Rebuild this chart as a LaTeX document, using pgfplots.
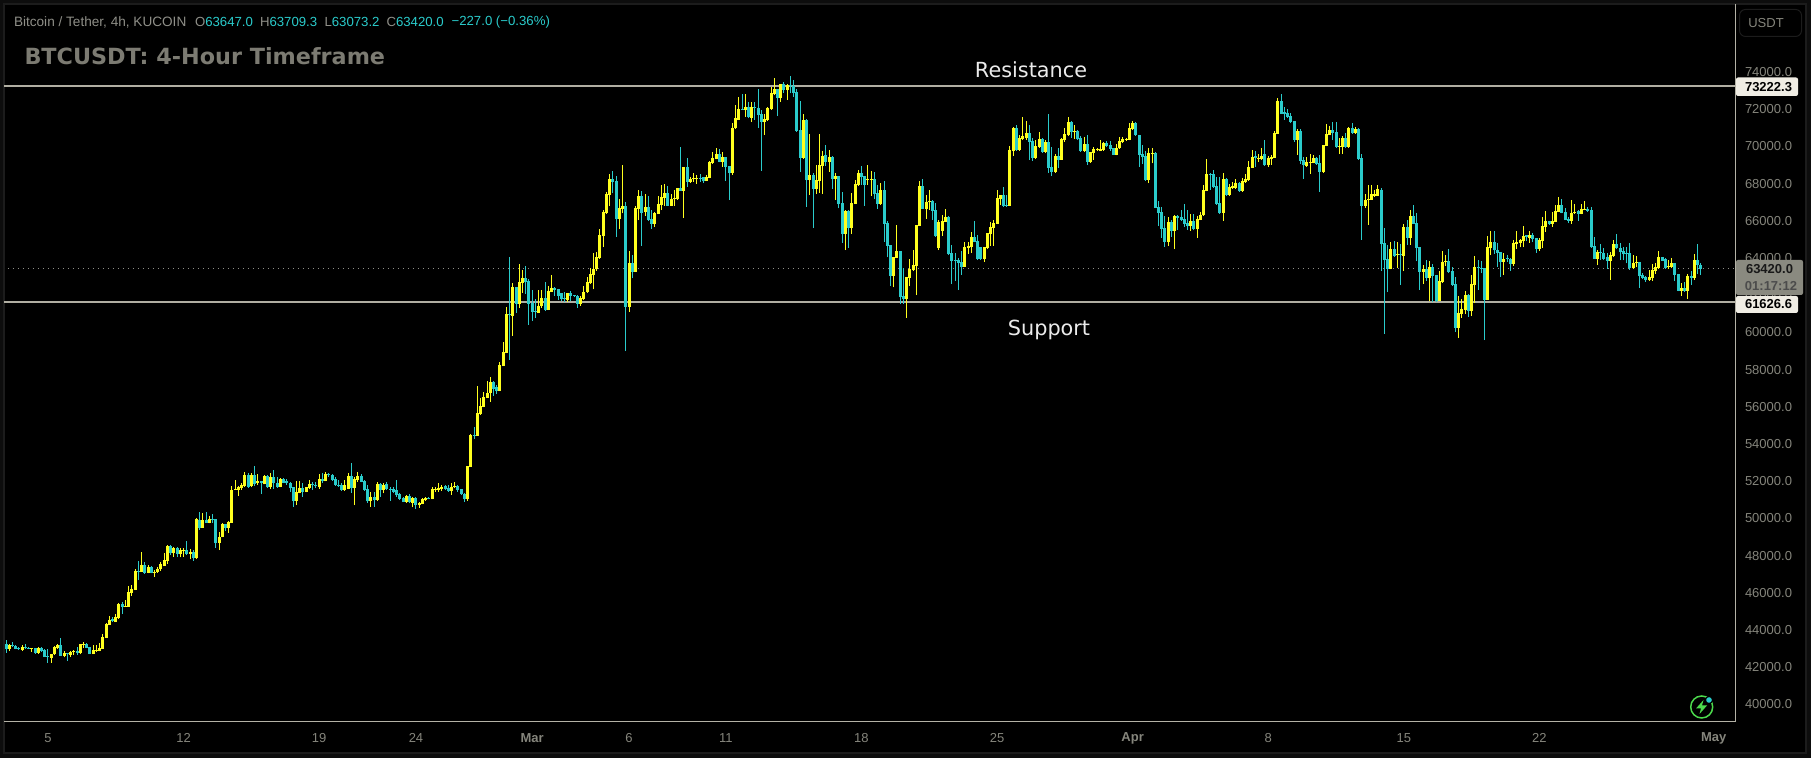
\documentclass[border=0pt]{standalone}
\usepackage{pgfplots}
\usepackage{pgfplotstable}
\usepackage{fontspec}
\pgfplotsset{compat=1.18}
\setmainfont{Liberation Sans}
\newfontfamily\djv{DejaVu Sans}
\definecolor{up}{HTML}{FFFF1E}
\definecolor{dn}{HTML}{2ACBCB}
\definecolor{axl}{HTML}{B4B2A6}
\definecolor{tk}{HTML}{85857C}
\definecolor{hd}{HTML}{8F8F88}
\definecolor{lv}{HTML}{B0AEA2}
\definecolor{ttl}{HTML}{7C7B72}
\definecolor{tagb}{HTML}{F0EDE4}
\definecolor{tagg}{HTML}{8A8A80}
\definecolor{frm}{HTML}{1C1C1C}
\definecolor{grn}{HTML}{4CD94C}
\pgfplotstableread{
o h l c
43250 43470 42780 42960
42980 43250 42890 43200
43200 43340 43110 43140
43140 43200 42960 43000
43030 43070 42930 42960
42930 43200 42870 43090
43070 43250 42980 43020
43050 43110 42960 43000
43000 43050 42840 43030
43020 43040 42730 42750
42780 43090 42730 43030
43030 43110 42820 42890
42930 42960 42550 42570
42620 42980 42250 42590
42500 42690 42250 42690
42690 43140 42660 43090
43030 43250 42990 43200
43200 43570 42600 42620
42600 42890 42530 42780
42750 42750 42350 42690
42640 42890 42570 42820
42800 42950 42660 42870
42870 43070 42660 42780
42780 43230 42690 43230
43210 43360 43030 43250
43250 43290 43010 43050
43070 43110 42710 42710
42710 43200 42710 42930
42890 43200 42840 42950
42870 43290 42850 43020
42980 43790 42980 43610
43570 44360 43570 44330
44270 44760 44270 44540
44580 44680 44420 44470
44430 44860 44430 44720
44630 45440 44590 45400
45400 45510 44860 45260
45260 45620 45260 45290
45260 46370 45260 46050
45990 46420 45850 46210
46150 47260 46150 47170
47170 47710 46690 47140
47120 48200 47120 47500
47500 47640 47030 47050
47090 47500 47050 47370
47390 47460 47050 47090
47090 47230 46870 47120
47120 47370 47090 47300
47280 47680 47190 47550
47440 48120 47440 47770
47710 48570 47550 48540
48520 48550 48020 48120
48120 48480 47950 48410
48430 48480 47910 48090
48070 48390 47910 48300
48250 48390 47950 48300
48300 48790 48030 48070
48110 48340 47800 48180
48200 48300 47730 47870
47870 50010 47840 49950
49920 50330 49380 49470
49490 50270 49490 49920
49920 50330 49770 49770
49770 50130 49740 49970
49970 50240 49770 49930
49970 49970 48410 48680
48680 49270 48300 49020
49020 49740 48980 49700
49700 49700 49330 49470
49470 49860 49240 49810
49770 51760 49770 51530
51550 52070 51530 51580
51530 51740 51210 51690
51650 51920 51530 51800
51740 52480 51710 52330
52330 52420 51650 51710
51730 52420 51670 52330
52330 52820 51740 51850
51920 52390 51800 52010
52010 52010 51310 51890
51830 52330 51830 52280
52280 52330 51650 51670
51690 52420 51580 52230
52230 52600 51580 51890
51900 52250 51650 51670
51690 52150 51670 52120
52120 52150 51890 51920
51990 52100 51800 51890
51900 51940 51440 51620
51690 51710 50630 50940
50940 52010 50720 51440
51390 52010 51350 51640
51640 51890 51170 51420
51440 51710 51400 51690
51650 52070 51560 51850
51830 51980 51530 51780
51800 51980 51650 51760
51670 52390 51600 52120
52120 52420 51920 52010
52010 52480 51990 52390
52390 52460 52250 52320
52320 52390 52030 52070
52140 52210 51760 51800
51820 52070 51710 51740
51780 51890 51490 51530
51530 52070 51490 51820
51600 52420 51560 52280
52280 53000 51390 51640
51620 52210 50720 52100
52070 52480 51980 52280
52280 52390 51940 51980
52030 52070 51490 51530
51560 51800 50850 50920
50940 51440 50630 51150
51150 51440 50630 50970
50990 51940 50960 51850
51850 51920 51170 51530
51530 51920 51350 51800
51850 51980 51530 51580
51600 51710 50950 51560
51560 51710 51350 51440
51530 52070 51170 51240
51300 51350 50990 51040
51100 51130 50870 50880
50870 51260 50850 51220
51220 51300 50810 50870
50830 51130 50600 51080
51120 51170 50530 50700
50740 50900 50580 50850
50790 51080 50760 51030
50990 51170 50950 51100
51100 51130 51030 51060
51040 51670 51030 51560
51530 51710 51440 51580
51530 51890 51440 51620
51580 51780 51490 51710
51730 51800 51530 51560
51650 51800 51440 51470
51490 51920 51260 51690
51670 51940 51620 51740
51740 51820 51440 51530
51560 51600 51260 51300
51330 51390 50900 51040
51040 52820 50940 52820
52780 54540 52780 54480
54480 54930 54270 54430
54450 57120 54450 55670
55610 56470 55560 56040
56010 56780 55970 56530
56490 57390 56490 56740
56730 57600 56260 57320
57320 57410 56600 56960
57070 57160 56710 56850
56850 58410 56850 58250
58190 59480 58190 58950
58890 61370 58890 60990
60990 64050 58520 60920
60880 62660 59810 62440
62440 62440 61040 61530
61530 63680 61310 62710
62660 63360 62120 62930
62930 63570 62070 62710
62760 62870 60400 61530
61580 62280 60610 61100
61150 61800 60780 61100
61040 62280 61040 61420
61420 62280 61310 61850
61850 62710 61150 61200
61200 62500 61200 62230
62170 63090 62170 62390
62390 62440 61960 62280
62330 62330 61740 61960
62120 62120 61690 61800
61850 62170 61640 61780
61740 62120 61640 62120
62120 62230 61690 61980
62010 62010 61890 61960
61960 62010 61300 61530
61530 61960 61420 61850
61800 62500 61740 62160
62160 63000 62140 62690
62640 63450 62600 63140
63090 64290 62320 63410
63390 64310 63320 64050
64000 65560 63950 65220
65180 66580 64590 66470
66420 67570 66370 67440
67390 68500 66800 68230
68230 68680 67480 68090
68140 68410 65150 66100
66100 67150 65560 66670
66640 69000 66400 66800
66800 66990 59000 61370
61370 64380 61100 63730
63730 64160 62910 63250
63250 66780 63250 66690
66640 67660 66040 67330
67330 67620 64650 66420
66460 67420 66260 66740
66740 67330 66010 66040
66100 66580 65560 65830
65830 66460 65670 66420
66380 67330 66370 66900
66850 67910 66580 67280
67230 67960 66800 67480
67480 67870 66800 66800
66800 67440 66800 67170
67150 67660 66800 67230
67170 67750 67120 67750
67750 69950 67620 67620
67620 68890 66150 68890
68890 69380 67840 68090
68090 68370 68050 68250
68230 68550 68090 68300
68270 68460 67980 68320
68320 68520 68100 68270
68340 68370 68030 68120
68160 68460 68160 68370
68320 69220 68280 69180
69110 69700 69050 69390
69320 69900 69320 69590
69590 69840 69140 69160
69160 69700 68910 69430
69430 69450 68160 68890
68950 68950 67120 68570
68570 71260 68480 70990
70990 72230 70940 71530
71420 72670 71420 71990
71990 72820 71960 71960
71960 72820 71600 72120
72120 72390 71510 71580
71550 72390 71310 72120
72120 72390 71420 72050
72070 73090 70990 71690
71740 71960 68680 71310
71310 71740 70610 71470
71420 72100 71380 72070
72010 73210 71960 72870
72820 73680 72760 73090
73090 73090 71630 72600
72600 73360 72390 73360
73360 73460 72870 73030
73030 73360 72500 73300
73300 73790 72850 73250
73250 73570 72670 72870
72930 73090 70790 70830
70880 72440 68620 69380
69380 71740 69340 71420
71420 71460 66760 68190
68190 70670 67390 68460
68460 68550 65610 67710
67710 69000 67440 68190
68160 70670 67510 69000
68950 69750 67440 69480
69540 70080 68950 69160
69160 69810 68640 69430
69450 69480 67710 68250
68250 68550 67120 68410
68410 68430 66670 66900
66940 67550 64810 65290
65290 66580 64430 66530
66530 66580 64540 65610
65610 67480 65290 66940
66900 68190 66900 67980
67930 68730 67870 68570
68570 68950 67930 68370
68410 68430 66800 67930
68190 69000 67930 68250
68190 68680 67330 68250
68250 68620 67170 67440
67480 67930 66640 66900
66900 68050 66850 67660
67660 68140 64880 65830
65880 65990 64040 64650
64700 64700 62500 63030
63030 64070 62420 64050
64000 65780 64000 64380
64380 64380 61530 61900
61960 63450 61530 61800
61800 62980 60780 62980
62930 63930 62500 63390
63340 64410 63300 63620
63570 65780 62010 65780
65720 68140 65720 67870
67870 68230 66640 66640
66640 67390 66100 67010
67010 67660 66580 67070
67070 67120 66040 66550
66580 66940 65150 65180
64540 66040 64430 65940
65450 66310 65180 65990
65940 66640 65940 66210
66210 66260 64160 64220
64270 64700 62600 63840
63880 64250 62760 63840
63890 63980 62280 63750
63790 64380 63090 63520
63520 64840 63520 64590
64560 64860 64230 64660
64610 65400 64270 65130
65130 65990 64860 64860
64920 65240 63890 63950
64590 64590 63890 63950
63950 64610 63790 64590
64540 65340 64480 65340
65310 65940 64650 65670
65610 66040 64650 65880
65830 67660 65830 67230
67170 67390 66850 67390
67390 67800 66760 66800
66850 67370 66760 66800
66800 70020 66800 69810
69750 71040 69480 70990
70990 71150 69770 69810
69810 70610 69770 70450
70400 71580 70340 70560
70450 71350 70340 70720
70720 71150 69270 70240
70290 70450 69230 69380
69380 70340 69340 70020
69970 70770 69910 70400
70400 70430 69660 69700
69700 70340 69630 70240
70240 71740 68570 68840
68890 69990 68410 68620
68620 69590 68590 69480
69480 69910 68840 69270
69270 70430 69270 70400
70340 70970 70240 70670
70610 71580 70580 71310
71310 71370 70450 70770
70770 71150 70400 70830
70830 70880 70340 70400
70450 70560 69700 69750
69750 70520 69700 70130
70130 70610 69000 69160
69160 69700 69110 69700
69650 69990 69270 69860
69810 69910 69750 69860
69770 70340 69740 69860
69810 70240 69770 70180
70180 70290 69950 70020
70060 70270 69740 69860
69910 69910 69540 69540
69540 70130 69520 69910
69900 70490 69860 70290
70240 70490 70180 70400
70340 70430 70290 70400
70360 71260 70330 70990
70940 71370 70880 71260
71260 71310 70560 70600
70610 70610 68880 69540
69590 70080 69050 69430
69480 69770 68140 68190
68190 69910 68030 69650
69590 69910 69090 69650
69650 69700 66690 66690
66740 67070 65720 66420
66470 66760 65080 65560
65610 66260 64590 64860
64860 66210 64650 65940
65940 66040 65150 65450
65450 66310 64480 66260
66260 66310 65510 66150
66210 66580 66010 66040
66100 66900 65690 65830
65880 66580 65510 65720
65720 66370 65470 65990
65990 66370 65490 65560
65560 66260 65080 66100
66040 66470 66040 66310
66310 67930 66260 67660
67600 69320 67600 68520
68520 68590 67660 68460
68520 68730 67750 67820
67870 68370 66850 66900
66960 68370 66370 66420
66420 68550 65990 68250
68250 68320 67350 67390
67390 67980 67330 67820
67760 68090 67730 67870
67760 68250 67710 68030
68030 68090 67570 67600
67600 68300 67550 68140
68090 68520 68050 68250
68190 69230 68160 68890
68840 69810 68840 69430
69480 69750 68890 69390
69320 69590 69160 69380
69320 69910 69270 69480
69590 70340 68950 68980
68980 69480 68890 69380
69320 69540 69000 69430
69380 70830 69380 70720
70670 72600 70670 72440
72440 72820 71740 71740
71850 72120 71420 71740
71800 72010 71530 71580
71640 71800 71240 71310
71350 71370 70240 70340
70340 70940 69540 70830
70830 70940 69050 69220
69270 69450 68250 68980
68950 69410 68910 69160
69110 69590 68520 69160
69130 69540 69090 69380
69380 69410 69000 69050
69090 69540 67550 68620
68620 70080 68590 70080
70040 71200 70020 70670
70610 71100 70600 70880
70880 71310 70340 70720
70770 71310 69910 69970
69970 70430 69590 70020
69970 70560 69590 70450
70450 70700 69930 69970
69970 71040 69930 70990
70990 71260 70690 70720
70720 71030 70670 70940
70940 70990 69270 69320
69380 69590 64970 66800
66800 67440 66710 67120
67120 67910 65780 67150
67120 67910 67120 67440
67330 67660 67300 67440
67330 67930 67330 67710
67660 67750 63300 64750
64810 65600 59920 63890
63950 64700 62170 63410
63410 64840 63390 64480
64480 64910 64070 64110
64160 64860 63460 64220
64220 64750 62550 64160
64110 65830 63300 65670
65670 66040 64700 65080
65080 66580 64700 66260
66260 66850 65830 65830
65880 66420 63820 64540
64590 64610 62280 63250
63250 63620 62600 63410
63410 63890 62780 62930
62930 63840 61670 63520
63520 63680 61630 63030
63090 63090 61630 61690
61690 63300 61690 62760
62690 64380 62660 63790
63770 64160 63570 63840
63840 64480 63210 63250
63300 63530 62500 62550
62600 62980 60020 60240
60240 61960 59700 61040
60990 61800 60780 61260
61200 62230 60990 62010
62010 62070 60830 61150
61150 63090 60880 62600
62550 64110 61600 63520
63520 63890 62280 63460
63460 63840 63180 63410
63460 63460 59590 61740
61740 65180 61740 64590
64540 65450 64160 64860
64860 65450 64220 64410
64430 64790 63520 64290
64320 64340 62980 63790
63790 64270 63090 63950
64000 64160 63800 63950
63950 63980 63300 63680
63680 64970 63570 64810
64770 65450 64480 64860
64810 65000 64570 64970
64910 65720 64590 65180
65220 65240 64910 65150
65080 65450 64810 65240
65240 65360 64860 65020
65080 65100 64270 64480
64480 65060 64380 64970
64910 66220 64540 65720
65690 66530 65400 65990
65990 65990 65780 65830
65830 66470 65670 65990
65940 66850 65940 66530
66470 67280 66470 66850
66850 67170 66400 66420
66470 66690 66040 66040
66080 66220 65880 65990
65990 67120 65830 66420
66420 66900 66370 66470
66530 66580 65990 66370
66370 66900 66350 66630
66580 67070 66580 66630
66630 66720 66490 66550
66580 66720 64540 64570
64650 65130 63950 63950
63950 64430 63620 64320
64320 64750 63890 64250
64270 64520 63890 63950
64040 64250 63410 63840
63840 64320 62820 64160
64110 64970 64070 64750
64750 65290 64480 64520
64540 64790 63890 64320
64380 64610 63890 64220
64270 64570 63710 64230
64270 64790 63360 63460
63460 64160 63430 63730
63730 64110 63530 63790
63790 63790 62390 63030
63090 63180 62850 62930
62980 63010 62710 62840
62820 63360 62780 62980
62930 63680 62780 63360
63300 63710 63140 63520
63460 64380 63430 64050
64050 64070 63840 63840
63950 64000 63410 63460
63500 63890 63410 63570
63520 63980 63460 63730
63730 63730 62760 63090
63140 63140 62210 62230
62230 62660 61960 62390
62390 62710 62170 62230
62230 63140 61800 63030
63030 63300 62550 62930
62930 64220 62820 63890
63890 64750 63140 63650
63647 63709.3 63073.2 63420
}\candles
\begin{document}
\begin{tikzpicture}[every node/.style={inner sep=0pt,outer sep=0pt}]
\begin{scope}[x=0.5pt,y=-0.5pt,shift={(-2pt,361pt)}]
\useasboundingbox (0,0) rectangle (1811,758);
\fill[black!95!white] (0,0) rectangle (1811,758);
\fill[black] (4,4) rectangle (1806,753);
\draw[frm,line width=1pt] (4,4) rectangle (1806,753);
\end{scope}
\begin{axis}[
  at={(0pt,0pt)},anchor=south west,scale only axis,
  width=865.5pt,height=359pt,
  xmin=-0.62,xmax=535.6,ymin=39056,ymax=77656,
  axis x line*=bottom,axis y line*=right,
  axis line style={axl,line width=0.5pt,-},
  major tick length=0pt,
  xtick={13,55,97,127,163,193,223,265,307,349,391,433,475,529},
  xticklabels={5,12,19,24,\textbf{Mar},6,11,18,25,\textbf{Apr},8,15,22,\textbf{May}},
  ytick={40000,42000,...,74000},
  scaled y ticks=false,
  yticklabel style={anchor=west,xshift=5pt,/pgf/number format/.cd,fixed,fixed zerofill,precision=1,1000 sep={},assume math mode=true},
  tick label style={text=tk,font=\fontsize{6.5}{8}\selectfont},
  xticklabel style={anchor=center,yshift=-8pt},
  clip=true,
  unbounded coords=discard,
  restrict x to domain=-1:600,
]
\addplot[dotted,draw=hd,line width=0.5pt] coordinates {(-1,63420) (536,63420)};
\addplot[lv,line width=1pt] coordinates {(-1,73222.3) (536,73222.3)};
\addplot[lv,line width=1pt] coordinates {(-1,61626.6) (536,61626.6)};
% wicks, down
\addplot[draw=none,mark=none,error bars/.cd,y dir=plus,y explicit,error mark=none,error bar style={dn,line width=0.5pt}]
  table[x expr={ifthenelse(\thisrow{c}<\thisrow{o},\coordindex,-100)},y=l,y error plus expr={\thisrow{h}-\thisrow{l}}] {\candles};
\addplot[draw=none,mark=none,error bars/.cd,y dir=plus,y explicit,error mark=none,error bar style={dn,line width=1.5pt}]
  table[x expr={ifthenelse(\thisrow{c}<\thisrow{o},\coordindex,-100)},y=c,y error plus expr={\thisrow{o}-\thisrow{c}}] {\candles};
% up
\addplot[draw=none,mark=none,error bars/.cd,y dir=plus,y explicit,error mark=none,error bar style={up,line width=0.5pt}]
  table[x expr={ifthenelse(\thisrow{c}<\thisrow{o},-100,\coordindex)},y=l,y error plus expr={\thisrow{h}-\thisrow{l}}] {\candles};
\addplot[draw=none,mark=none,error bars/.cd,y dir=plus,y explicit,error mark=none,error bar style={up,line width=1.5pt}]
  table[x expr={ifthenelse(\thisrow{c}<\thisrow{o},-100,\coordindex)},y=o,y error plus expr={\thisrow{c}-\thisrow{o}}] {\candles};
\end{axis}
\begin{scope}[x=0.5pt,y=-0.5pt,shift={(-2pt,361pt)}]
\def\hdr{\fontsize{6.6}{8}\selectfont}
\node[anchor=west,text=hd,font=\fontsize{6.8}{8}\selectfont] at (14,22) {Bitcoin / Tether, 4h, KUCOIN};
\node[anchor=west,font=\hdr] at (195,22) {\textcolor{hd}{O}\textcolor{dn}{63647.0}};
\node[anchor=west,font=\hdr] at (260,22) {\textcolor{hd}{H}\textcolor{dn}{63709.3}};
\node[anchor=west,font=\hdr] at (324.5,22) {\textcolor{hd}{L}\textcolor{dn}{63073.2}};
\node[anchor=west,font=\hdr] at (386.5,22) {\textcolor{hd}{C}\textcolor{dn}{63420.0}};
\node[anchor=west,text=dn,font=\hdr] at (451.6,22) {−227.0 (−0.36\%)};
\node[anchor=west,text=ttl,font=\djv\bfseries\fontsize{11.15}{13}\selectfont] at (24.5,56) {BTCUSDT: 4-Hour Timeframe};
\node[text=white!92!black,font=\djv\fontsize{10.4}{13}\selectfont] at (1031,70) {Resistance};
\node[text=white!92!black,font=\djv\fontsize{10.4}{13}\selectfont] at (1049,330) {Support};
% right-hand tags
\fill[tagb,rounded corners=1pt] (1736,77.5) rectangle (1798,96);
\node[anchor=east,text=black,font=\bfseries\fontsize{6.5}{8}\selectfont] at (1792,87) {73222.3};
\fill[tagb,rounded corners=1pt] (1736,296) rectangle (1798,313);
\node[anchor=east,text=black,font=\bfseries\fontsize{6.5}{8}\selectfont] at (1792,304.5) {61626.6};
\fill[tagg,rounded corners=1pt] (1736,260) rectangle (1803,295);
\node[anchor=east,text=black!90,font=\bfseries\fontsize{6.5}{8}\selectfont] at (1793,269) {63420.0};
\node[anchor=east,text=black!70,font=\bfseries\fontsize{6.5}{8}\selectfont] at (1797,286.5) {01:17:12};
% currency button
\draw[frm,line width=0.5pt,rounded corners=3pt] (1739.5,9.5) rectangle (1801.5,36.5);
\node[text=tk,font=\fontsize{6.5}{8}\selectfont] at (1766,23) {USDT};
% icon
\draw[grn,line width=0.75pt] (1701.7,707) circle (11);
\fill[grn] (1703.5,700) -- (1696,708.5) -- (1701,708.5) -- (1699.5,714) -- (1707,705.5) -- (1702,705.5) -- cycle;
\fill[black] (1709,700) circle (4);
\fill[dn] (1709,700) circle (2.8);
\end{scope}
\end{tikzpicture}
\end{document}
